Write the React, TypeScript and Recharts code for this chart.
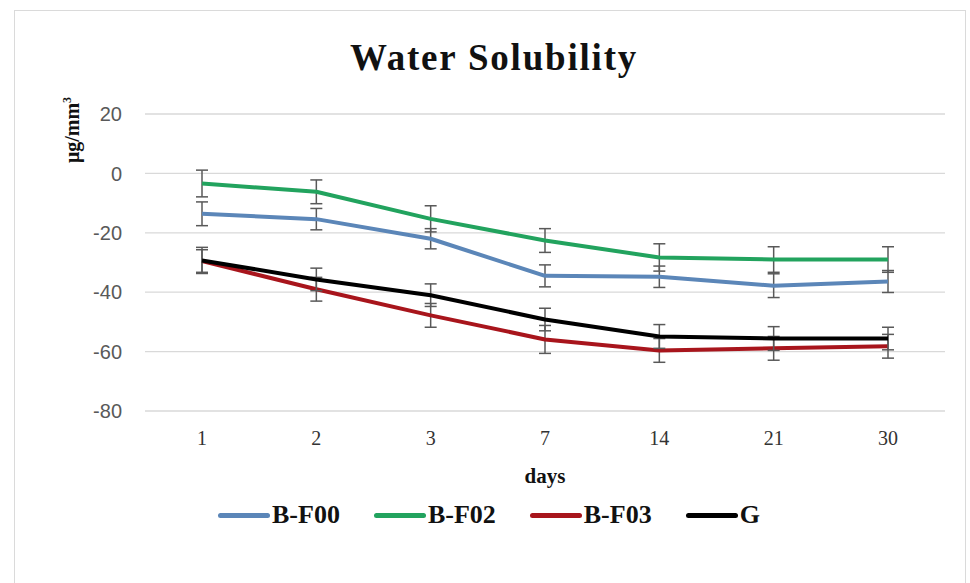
import React from 'react';
import { LineChart, Line, XAxis, YAxis, CartesianGrid, ErrorBar } from 'recharts';

// 측정 일자 (x축 카테고리)
const days = ['1', '2', '3', '7', '14', '21', '30'];

// 시리즈별 평균값 (µg/mm³)
const bf00 = [-13.6, -15.4, -22.0, -34.5, -34.8, -37.8, -36.4];
const bf02 = [-3.4, -6.2, -15.3, -22.6, -28.3, -29.0, -29.0];
const bf03 = [-29.5, -39.0, -47.8, -55.9, -59.6, -58.9, -58.2];
const g = [-29.3, -35.7, -41.0, -49.2, -54.9, -55.6, -55.6];

// 시리즈별 오차 (±)
const bf00Err = [4.0, 3.6, 3.4, 3.7, 3.6, 4.0, 3.7];
const bf02Err = [4.5, 4.0, 4.4, 4.0, 4.6, 4.3, 4.3];
const bf03Err = [3.8, 4.0, 4.0, 4.7, 4.0, 4.0, 4.0];
const gErr = [4.4, 3.8, 3.8, 3.8, 4.0, 4.0, 3.8];

const yTicks = [-80, -60, -40, -20, 0, 20];

const series = [
  { key: 'bf00', name: 'B-F00', color: '#5b86b8' },
  { key: 'bf02', name: 'B-F02', color: '#22a35e' },
  { key: 'bf03', name: 'B-F03', color: '#a8151c' },
  { key: 'g', name: 'G', color: '#000000' },
];

const chartData = days.map((day, i) => ({
  day,
  bf00: bf00[i],
  bf00Err: bf00Err[i],
  bf02: bf02[i],
  bf02Err: bf02Err[i],
  bf03: bf03[i],
  bf03Err: bf03Err[i],
  g: g[i],
  gErr: gErr[i],
}));

const serif = '"Palatino Linotype", "Book Antiqua", "Liberation Serif", serif';

export default function App() {
  return (
    <div style={{ position: 'absolute', left: 0, top: 0, width: 970, height: 583, background: '#fff', overflow: 'hidden' }}>
      <div
        style={{
          position: 'absolute',
          left: 14,
          top: 10,
          width: 950,
          height: 600,
          border: '1px solid #dadada',
        }}
      />
      {/* 차트 제목 */}
      <div
        style={{
          position: 'absolute',
          left: 0,
          width: 988,
          top: 36,
          textAlign: 'center',
          fontFamily: serif,
          fontWeight: 700,
          fontSize: 37,
          letterSpacing: 1.8,
          color: '#111',
        }}
      >
        Water Solubility
      </div>
      {/* y축 단위 */}
      <div
        style={{
          position: 'absolute',
          left: 72,
          top: 130,
          transform: 'translate(-50%, -50%) rotate(-90deg)',
          fontFamily: serif,
          fontWeight: 700,
          fontSize: 20,
          whiteSpace: 'nowrap',
          color: '#111',
        }}
      >
        μg/mm<sup style={{ fontSize: 12 }}>3</sup>
      </div>
      <div style={{ position: 'absolute', left: 0, top: 0 }}>
        <LineChart width={970} height={583} data={chartData} margin={{ top: 114, right: 25, bottom: 100, left: 0 }}>
          <CartesianGrid vertical={false} stroke="#d9d9d9" strokeWidth={1.3} />
          <XAxis
            dataKey="day"
            axisLine={false}
            tickLine={false}
            tickMargin={14}
            padding={{ left: 57, right: 57 }}
            tick={{ fill: '#333', fontSize: 20, fontFamily: serif }}
            label={{ value: 'days', position: 'insideBottom', offset: 0, fill: '#111', fontSize: 21, fontWeight: 700, fontFamily: serif }}
            height={72}
          />
          <YAxis
            type="number"
            domain={[-80, 20]}
            ticks={yTicks}
            axisLine={false}
            tickLine={false}
            tickMargin={17}
            width={145}
            tick={{ fill: '#595959', fontSize: 20, fontFamily: 'Liberation Sans, sans-serif' }}
          />
          {series.map((s) => (
            <Line
              key={s.key}
              type="linear"
              dataKey={s.key}
              name={s.name}
              stroke={s.color}
              strokeWidth={4}
              dot={false}
              activeDot={false}
              strokeLinejoin="round"
              isAnimationActive={false}
            >
              <ErrorBar dataKey={`${s.key}Err`} direction="y" width={6} stroke="#595959" strokeWidth={1.5} />
            </Line>
          ))}
        </LineChart>
      </div>
      {/* 범례 */}
      <div
        style={{
          position: 'absolute',
          left: 218,
          top: 500,
          display: 'flex',
          gap: 34,
        }}
      >
        {series.map((s) => (
          <div key={s.key} style={{ display: 'flex', alignItems: 'center' }}>
            <div style={{ width: 52, height: 5, background: s.color, borderRadius: 3, marginRight: 2 }} />
            <span style={{ fontFamily: serif, fontWeight: 700, fontSize: 26, color: '#111' }}>{s.name}</span>
          </div>
        ))}
      </div>
    </div>
  );
}
